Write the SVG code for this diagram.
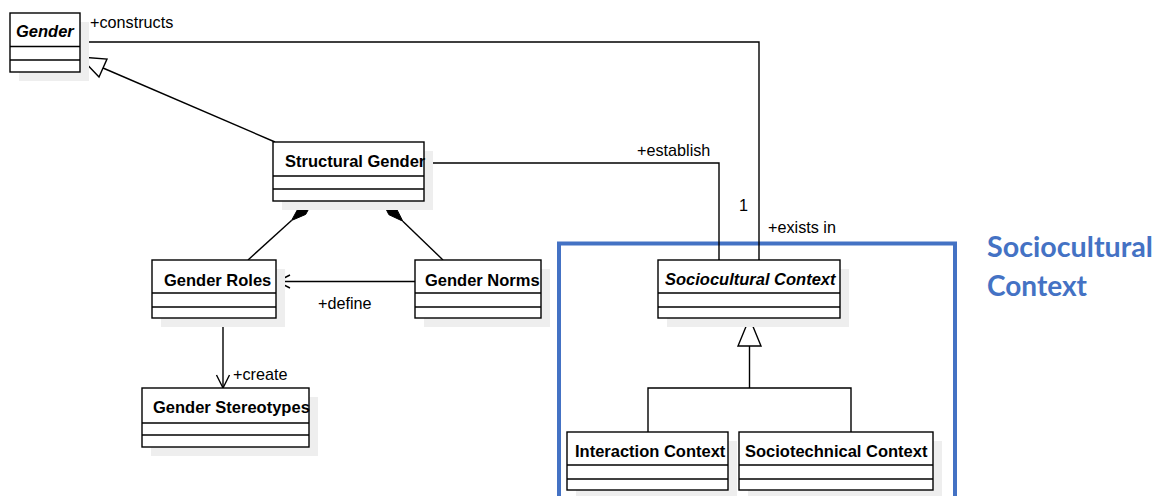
<svg xmlns="http://www.w3.org/2000/svg" width="1169" height="496" viewBox="0 0 1169 496">
  <style>
    .box { fill: #ffffff; stroke: #000000; stroke-width: 1.4; }
    .shadow { fill: #eeeeee; stroke: none; }
    .div { stroke: #000000; stroke-width: 1.4; }
    .name { font-family: "Liberation Sans", Arial, sans-serif; font-weight: bold; font-size: 16.5px; fill: #000000; }
    .abstract { font-style: italic; }
    .lbl { font-family: "Liberation Sans", Arial, sans-serif; font-size: 16.2px; fill: #000000; }
    .edge { fill: none; stroke: #000000; stroke-width: 1.4; }
    .head { fill: none; stroke: #000000; stroke-width: 1.4; stroke-linejoin: miter; }
    .frame { fill: none; stroke: #4472C4; stroke-width: 4; }
    .title { font-family: Lato, "Open Sans", sans-serif; font-weight: bold; font-size: 28px; fill: #4472C4; }
  </style>
  <rect width="1169" height="496" fill="#ffffff"/>

  <!-- package frame -->
  <g id="frame-sociocultural">
    <rect class="frame" x="559" y="243.5" width="396" height="270"/>
    <text class="title" x="987" y="257" textLength="166" lengthAdjust="spacingAndGlyphs">Sociocultural</text>
    <text class="title" x="987" y="296" textLength="100" lengthAdjust="spacingAndGlyphs">Context</text>
  </g>

  <!-- connectors -->
  <g id="connectors">
    <!-- Structural Gender generalizes Gender -->
    <line class="edge" x1="275" y1="142" x2="103" y2="68"/>
    <polygon points="80,57 107,59 99,77" fill="#ffffff" stroke="#000000" stroke-width="1.4"/>
    <!-- Gender constructs / exists in Sociocultural Context -->
    <polyline class="edge" points="80,42 759,42 759,260"/>
    <text class="lbl" x="90" y="28">+constructs</text>
    <text class="lbl" x="768" y="233">+exists in</text>
    <text class="lbl" x="739" y="211">1</text>
    <!-- Structural Gender establish -->
    <polyline class="edge" points="424,163 719,163 719,260"/>
    <text class="lbl" x="637" y="156">+establish</text>
    <!-- compositions -->
    <line class="edge" x1="291.5" y1="220.5" x2="248" y2="260"/>
    <polygon points="313,201 305.7,214.4 291.5,220.5 298.9,207" fill="#000000" stroke="#000000" stroke-width="1"/>
    <line class="edge" x1="402.8" y1="221.2" x2="443" y2="260"/>
    <polygon points="382,201 395.9,207.5 402.8,221.2 388.9,214.7" fill="#000000" stroke="#000000" stroke-width="1"/>
    <!-- define -->
    <line class="edge" x1="415" y1="281.5" x2="277" y2="281.5"/>
    <polyline class="head" points="290,275 277,281.5 290,288"/>
    <text class="lbl" x="318" y="309">+define</text>
    <!-- create -->
    <line class="edge" x1="223" y1="318" x2="223" y2="388"/>
    <polyline class="head" points="216.5,375 223,388 229.5,375"/>
    <text class="lbl" x="233" y="380">+create</text>
    <!-- context specializations -->
    <polyline class="edge" points="648,432 648,388 851,388 851,432"/>
    <line class="edge" x1="749.5" y1="388" x2="749.5" y2="346"/>
    <polygon points="749.5,318 761,346 738,346" fill="#ffffff" stroke="#000000" stroke-width="1.4"/>
  </g>

  <g id="node-gender">
    <rect class="shadow" x="19" y="22" width="70" height="59"/>
    <rect class="box" x="10" y="13" width="70" height="59"/>
    <line class="div" x1="10" y1="46.5" x2="80" y2="46.5"/>
    <line class="div" x1="10" y1="60" x2="80" y2="60"/>
    <text class="name abstract" x="16" y="37">Gender</text>
  </g>

  <g id="node-structural-gender">
    <rect class="shadow" x="282" y="151" width="151" height="59"/>
    <rect class="box" x="273" y="142" width="151" height="59"/>
    <line class="div" x1="273" y1="176" x2="424" y2="176"/>
    <line class="div" x1="273" y1="189" x2="424" y2="189"/>
    <text class="name" x="285" y="167">Structural Gender</text>
  </g>

  <g id="node-gender-roles">
    <rect class="shadow" x="161" y="269" width="124" height="58"/>
    <rect class="box" x="152" y="260" width="124" height="58"/>
    <line class="div" x1="152" y1="293" x2="276" y2="293"/>
    <line class="div" x1="152" y1="307" x2="276" y2="307"/>
    <text class="name" x="164" y="286">Gender Roles</text>
  </g>

  <g id="node-gender-norms">
    <rect class="shadow" x="424" y="269" width="126" height="58"/>
    <rect class="box" x="415" y="260" width="126" height="58"/>
    <line class="div" x1="415" y1="293" x2="541" y2="293"/>
    <line class="div" x1="415" y1="307" x2="541" y2="307"/>
    <text class="name" x="425" y="286">Gender Norms</text>
  </g>

  <g id="node-gender-stereotypes">
    <rect class="shadow" x="151" y="397" width="167" height="59"/>
    <rect class="box" x="142" y="388" width="167" height="59"/>
    <line class="div" x1="142" y1="423" x2="309" y2="423"/>
    <line class="div" x1="142" y1="435" x2="309" y2="435"/>
    <text class="name" x="153" y="413">Gender Stereotypes</text>
  </g>

  <g id="node-sociocultural-context">
    <rect class="shadow" x="667" y="269" width="182" height="58"/>
    <rect class="box" x="658" y="260" width="182" height="58"/>
    <line class="div" x1="658" y1="293" x2="840" y2="293"/>
    <line class="div" x1="658" y1="307" x2="840" y2="307"/>
    <text class="name abstract" x="665" y="285">Sociocultural Context</text>
  </g>

  <g id="node-interaction-context">
    <rect class="shadow" x="576" y="441" width="161" height="58"/>
    <rect class="box" x="567" y="432" width="161" height="58"/>
    <line class="div" x1="567" y1="465" x2="728" y2="465"/>
    <line class="div" x1="567" y1="479" x2="728" y2="479"/>
    <text class="name" x="575" y="457">Interaction Context</text>
  </g>

  <g id="node-sociotechnical-context">
    <rect class="shadow" x="748" y="441" width="194" height="58"/>
    <rect class="box" x="739" y="432" width="194" height="58"/>
    <line class="div" x1="739" y1="465" x2="933" y2="465"/>
    <line class="div" x1="739" y1="479" x2="933" y2="479"/>
    <text class="name" x="745" y="457">Sociotechnical Context</text>
  </g>
</svg>
